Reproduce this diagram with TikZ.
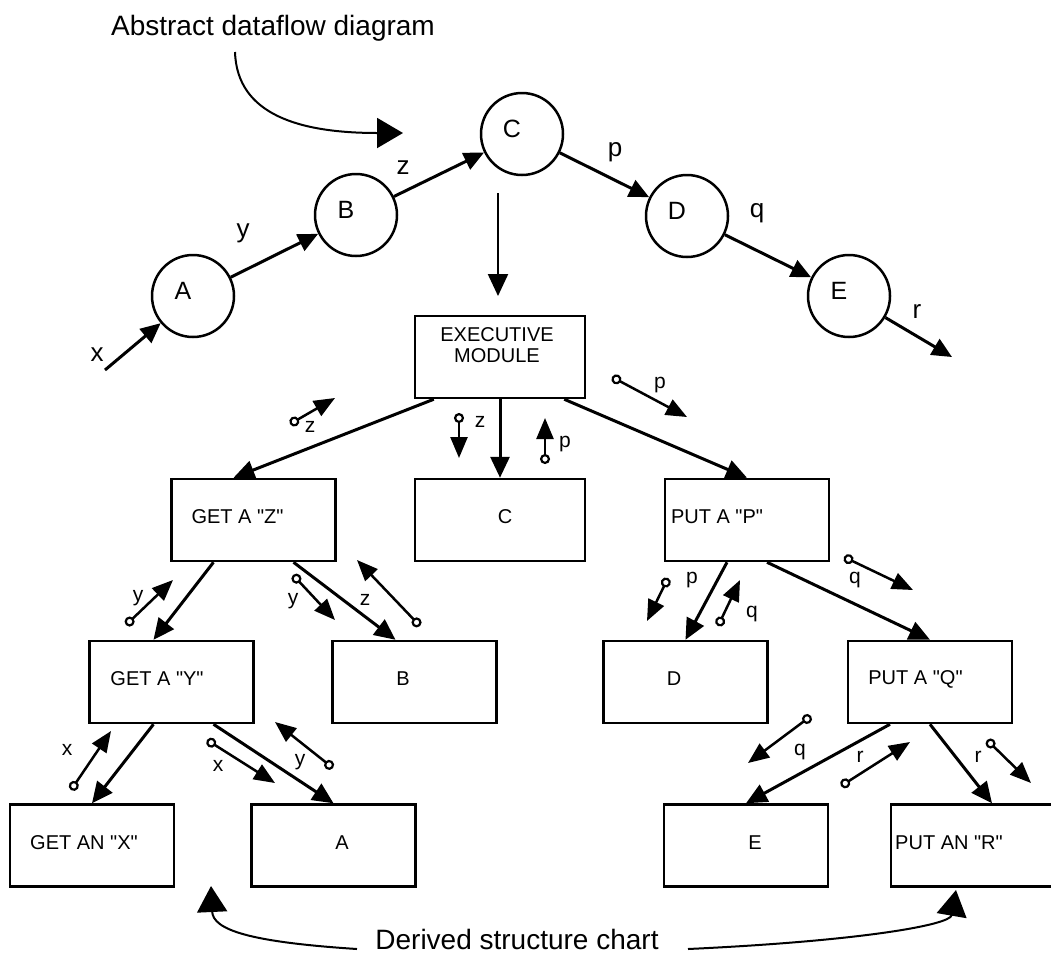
\documentclass[tikz,border=0pt]{standalone}
\usepackage{fontspec}
\setmainfont{Liberation Sans}[Ligatures=TeXOff]
\usetikzlibrary{arrows.meta,positioning}

\begin{document}
\begin{tikzpicture}[x=1pt, y=-1pt,
    bubble/.style={circle, draw, line width=2.5pt, minimum size=82pt, inner sep=0pt,
        label={[font=\fontsize{25}{25}\selectfont, xshift=-10pt, yshift=5pt]center:#1}},
    module/.style n args={3}{rectangle, draw, line width=2.5pt, minimum width=164pt, minimum height=82pt, inner sep=0pt,
        label={[font=\fontsize{20}{21}\selectfont, align=center, xshift=#1, yshift=#2]center:#3}},
    flow/.style={line width=3pt, -{Triangle[length=20pt,width=18pt]}},
    call/.style={line width=3pt, -{Triangle[length=21pt,width=19pt]}},
    down/.style={line width=2.2pt, -{Triangle[length=22pt,width=20pt]}},
    couple/.style={line width=2.5pt, {Circle[open,length=10pt,width=10pt,line width=2.2pt]}-{Triangle[length=21pt,width=17pt]}},
    note/.style={line width=2pt, -{Triangle[length=26pt,width=30pt]}},
    bigtag/.style={font=\fontsize{26}{26}\selectfont, inner sep=0pt},
    smalltag/.style={font=\fontsize{21}{21}\selectfont, inner sep=0pt},
    caption/.style={font=\fontsize{28}{28}\selectfont, inner sep=0pt, anchor=base}]

    \path[use as bounding box, fill=white] (0,0) rectangle (1051,954);

    % dataflow bubbles
    \node[bubble=A] (cA) at (193,296) {};
    \node[bubble=B] (cB) at (356,215) {};
    \node[bubble=C] (cC) at (522,134) {};
    \node[bubble=D] (cD) at (687,216) {};
    \node[bubble=E] (cE) at (849,296) {};

    \coordinate (xin) at (105,370);
    \coordinate (rout) at (952,357);

    \draw[flow] (xin) -- (cA);
    \draw[flow] (cA) -- (cB);
    \draw[flow] (cB) -- (cC);
    \draw[flow] (cC) -- (cD);
    \draw[flow] (cD) -- (cE);
    \draw[flow] (cE) -- (rout);

    \node[bigtag] (lx) at (97,355) {x};
    \node[bigtag] (ly) at (243,233) {y};
    \node[bigtag] (lz) at (403,168) {z};
    \node[bigtag] (lp) at (615,152) {p};
    \node[bigtag] (lq) at (757,213) {q};
    \node[bigtag] (lr) at (917,311) {r};

    % bubble C becomes the executive
    \coordinate (cdn) at (498,193);
    \coordinate (edn) at (498,296);
    \draw[down] (cdn) -- (edn);

    % modules
    \node[module={-3pt}{12pt}{EXECUTIVE\\MODULE}, minimum width=170pt] (exec) at (500,357) {};

    \node[module={-16pt}{3pt}{GET A "Z"}] (getz) at (253.5,520) {};
    \node[module={5pt}{3pt}{C}, minimum width=170pt] (cmod) at (500,520) {};
    \node[module={-30pt}{3pt}{PUT A "P"}] (putp) at (747,520) {};

    \node[module={-14.5pt}{3pt}{GET A "Y"}] (gety) at (171.5,682) {};
    \node[module={-11.5pt}{3pt}{B}] (bmod) at (414.5,682) {};
    \node[module={-11.5pt}{3pt}{D}] (dmod) at (685.5,682) {};
    \node[module={-14.5pt}{3pt}{PUT A "Q"}] (putq) at (930,682) {};

    \node[module={-8pt}{2.5pt}{GET AN "X"}] (getx) at (92,845.5) {};
    \node[module={8.5pt}{2.5pt}{A}] (amod) at (333.5,845.5) {};
    \node[module={9pt}{2.5pt}{E}] (emod) at (746,845.5) {};
    \node[module={-24pt}{2.5pt}{PUT AN "R"}] (putr) at (973,845.5) {};

    % calls
    \draw[call] ([xshift=20pt]exec.south west) -- ([xshift=-20pt]getz.north);
    \draw[call] (exec.south) -- (cmod.north);
    \draw[call] ([xshift=-22pt]exec.south east) -- (putp.north);
    \draw[call] ([xshift=-40pt]getz.south) -- ([xshift=-18pt]gety.north);
    \draw[call] ([xshift=40pt]getz.south) -- ([xshift=-19pt]bmod.north);
    \draw[call] ([xshift=-20pt]putp.south) -- (dmod.north);
    \draw[call] ([xshift=20pt]putp.south) -- (putq.north);
    \draw[call] ([xshift=-18pt]gety.south) -- (getx.north);
    \draw[call] ([xshift=42pt]gety.south) -- (amod.north);
    \draw[call] ([xshift=-40pt]putq.south) -- (emod.north);
    \draw[call] (putq.south) -- ([xshift=19pt]putr.north);

    % couples under the executive
    \coordinate (k1a) at (290,424); \coordinate (k1b) at (335,398);
    \coordinate (k2a) at (459,413); \coordinate (k2b) at (459,458);
    \coordinate (k3a) at (545,464); \coordinate (k3b) at (545,418);
    \coordinate (k4a) at (612,377); \coordinate (k4b) at (687,417);
    \draw[couple] (k1a) -- (k1b);
    \draw[couple] (k2a) -- (k2b);
    \draw[couple] (k3a) -- (k3b);
    \draw[couple] (k4a) -- (k4b);
    \node[smalltag] (t1) at (310,427) {z};
    \node[smalltag] (t2) at (480,422) {z};
    \node[smalltag] (t3) at (565,444) {p};
    \node[smalltag] (t4) at (660,385) {p};

    % couples under GET A "Z" and PUT A "P"
    \coordinate (k5a) at (126,625); \coordinate (k5b) at (173,580);
    \coordinate (k6a) at (293,575); \coordinate (k6b) at (335,620);
    \coordinate (k7a) at (420,626); \coordinate (k7b) at (357,560);
    \coordinate (k8a) at (668,578); \coordinate (k8b) at (647,621);
    \coordinate (k9a) at (718,626); \coordinate (k9b) at (740,580);
    \coordinate (k10a) at (844,557); \coordinate (k10b) at (913,590);
    \draw[couple] (k5a) -- (k5b);
    \draw[couple] (k6a) -- (k6b);
    \draw[couple] (k7a) -- (k7b);
    \draw[couple] (k8a) -- (k8b);
    \draw[couple] (k9a) -- (k9b);
    \draw[couple] (k10a) -- (k10b);
    \node[smalltag] (t5) at (138,598) {y};
    \node[smalltag] (t6) at (293,601) {y};
    \node[smalltag] (t7) at (365,600) {z};
    \node[smalltag] (t8) at (692,580) {p};
    \node[smalltag] (t9) at (752,614) {q};
    \node[smalltag] (t10) at (855,580) {q};

    % couples under GET A "Y" and PUT A "Q"
    \coordinate (k11a) at (71,790); \coordinate (k11b) at (111,731);
    \coordinate (k12a) at (207,740); \coordinate (k12b) at (275,783);
    \coordinate (k13a) at (333,768); \coordinate (k13b) at (275,722);
    \coordinate (k14a) at (811,716); \coordinate (k14b) at (748,763);
    \coordinate (k15a) at (841,786); \coordinate (k15b) at (910,742);
    \coordinate (k16a) at (987,740); \coordinate (k16b) at (1031,783);
    \draw[couple] (k11a) -- (k11b);
    \draw[couple] (k12a) -- (k12b);
    \draw[couple] (k13a) -- (k13b);
    \draw[couple] (k14a) -- (k14b);
    \draw[couple] (k15a) -- (k15b);
    \draw[couple] (k16a) -- (k16b);
    \node[smalltag] (t11) at (67,750) {x};
    \node[smalltag] (t12) at (218,766) {x};
    \node[smalltag] (t13) at (300,762) {y};
    \node[smalltag] (t14) at (800,752) {q};
    \node[smalltag] (t15) at (860,757) {r};
    \node[smalltag] (t16) at (978,757) {r};

    % captions
    \node[caption] (abs) at (273,35) {Abstract dataflow diagram};
    \coordinate (absa) at (235,52);
    \coordinate (absb) at (403,133);
    \draw[note] (absa) .. controls (237,115) and (300,133) .. (absb);

    \node[caption] (der) at (517,949) {Derived structure chart};
    \coordinate (dera) at (357,949);
    \coordinate (derb) at (211,886);
    \coordinate (derc) at (688,949);
    \coordinate (derd) at (956,890);
    \draw[note] (dera) .. controls (250,942) and (213,930) .. (derb);
    \draw[note] (derc) .. controls (860,941) and (950,925) .. (derd);
\end{tikzpicture}
\end{document}
